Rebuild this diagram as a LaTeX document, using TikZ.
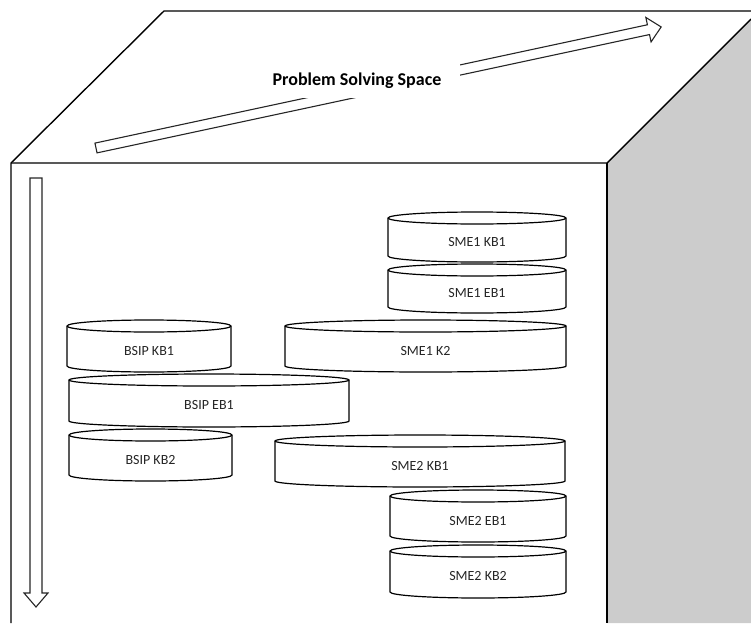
\documentclass[tikz,border=0pt]{standalone}
\usepackage{fontspec}
\setmainfont{Carlito}
\begin{document}
\begin{tikzpicture}[x=1pt,y=1pt,
  edge/.style={line width=1.4pt, line join=miter},
  hollow/.style={draw=black!85, line width=1.1pt, fill=white, line join=miter},
  disk/.style={draw=black, line width=1.2pt, fill=white},
  disklabel/.style={font=\fontsize{14}{16}\selectfont, text=black!85, inner sep=0pt, anchor=base},
  title/.style={font=\bfseries\fontsize{18}{21}\selectfont, fill=white, inner xsep=19pt, minimum height=34pt}]
\useasboundingbox (0,0) rectangle (751,-623);

% cube: shaded side face and outline
\fill[black!20] (607,-163) -- (751,-19) -- (751,-623) -- (607,-623) -- cycle;
\draw[edge] (751,-11) -- (164,-11) -- (11,-163) -- (11,-623);
\draw[edge] (11,-163) -- (607,-163) -- (751,-19);
\draw[edge] (607,-163) -- (607,-623);

% diagonal hollow arrow across the top face
\begin{scope}[shift={(96,-148)}, rotate=12.09]
  \draw[hollow] (0,-5) -- (565,-5) -- (565,-12.5) -- (578,0) -- (565,12.5) -- (565,5) -- (0,5) -- cycle;
\end{scope}
\node[title] (pss) at (357,-81) {Problem Solving Space};

% vertical hollow arrow on the front face
\draw[hollow] (30,-178) -- (42,-178) -- (42,-593) -- (48,-593) -- (36,-607) -- (24,-593) -- (30,-593) -- cycle;

% knowledge-base disk: name, left x, right x, top centre y, bottom centre y, label
\newcommand\kbdisk[6]{%
  \pgfmathsetmacro\kbrx{(#3-#2)/2}%
  \pgfmathsetmacro\kbcx{(#3+#2)/2}%
  \draw[disk] (#2,-#4) -- (#2,-#5) arc[start angle=180,end angle=360,x radius=\kbrx,y radius=6]
     -- (#3,-#4) arc[start angle=0,end angle=180,x radius=\kbrx,y radius=6] -- cycle;
  \draw[disk, fill=none] (#2,-#4) arc[start angle=180,end angle=360,x radius=\kbrx,y radius=6];
  \node[disklabel] (#1) at (\kbcx,{-(#4+#5)/2-9}) {#6};
}

\kbdisk{smekba}{388}{566}{218}{256}{SME1 KB1}
\kbdisk{smeeba}{388}{566}{270}{307}{SME1 EB1}
\kbdisk{smekb}{285}{566}{326}{366}{SME1 K2}
\kbdisk{bsipkba}{67}{231}{326}{366}{BSIP KB1}
\kbdisk{bsipeba}{69}{349}{380}{421}{BSIP EB1}
\kbdisk{bsipkbb}{69}{232}{435}{475}{BSIP KB2}
\kbdisk{smetkba}{275}{565}{441}{481}{SME2 KB1}
\kbdisk{smeteba}{390}{566}{496}{536}{SME2 EB1}
\kbdisk{smetkbb}{390}{566}{551}{592}{SME2 KB2}
\end{tikzpicture}
\end{document}
